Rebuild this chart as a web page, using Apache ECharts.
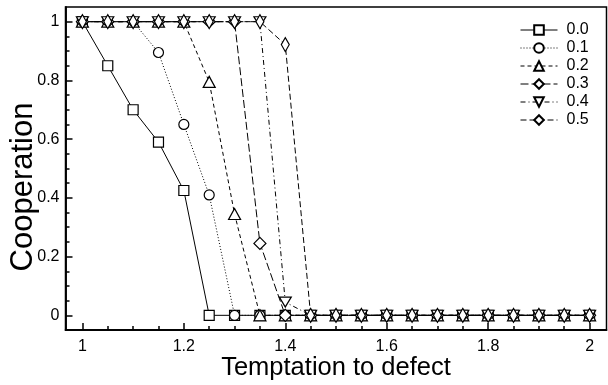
<!DOCTYPE html>
<html>
<head>
<meta charset="utf-8">
<script src="https://cdn.jsdelivr.net/npm/echarts@6/dist/echarts.min.js"></script>
<style>
  html, body { margin: 0; padding: 0; background: #fff; }
  #chart { width: 608px; height: 385px; }
</style>
</head>
<body>
<div id="chart"></div>
<script>
const temptation = [1.0, 1.05, 1.1, 1.15, 1.2, 1.25, 1.3, 1.35, 1.4, 1.45, 1.5,
  1.55, 1.6, 1.65, 1.7, 1.75, 1.8, 1.85, 1.9, 1.95, 2.0];

const coop00 = [1, 0.85, 0.70, 0.59, 0.425, 0, 0, 0, 0, 0, 0, 0, 0, 0, 0, 0, 0, 0, 0, 0, 0];
const coop01 = [1, 1, 1, 0.895, 0.65, 0.41, 0, 0, 0, 0, 0, 0, 0, 0, 0, 0, 0, 0, 0, 0, 0];
const coop02 = [1, 1, 1, 1, 1, 0.795, 0.345, 0, 0, 0, 0, 0, 0, 0, 0, 0, 0, 0, 0, 0, 0];
const coop03 = [1, 1, 1, 1, 1, 1, 1, 0.245, 0, 0, 0, 0, 0, 0, 0, 0, 0, 0, 0, 0, 0];
const coop04 = [1, 1, 1, 1, 1, 1, 1, 1, 0.045, 0, 0, 0, 0, 0, 0, 0, 0, 0, 0, 0, 0];
const coop05 = [1, 1, 1, 1, 1, 1, 1, 1, 0.922, 0, 0, 0, 0, 0, 0, 0, 0, 0, 0, 0, 0];

const seriesNames = ['0.0', '0.1', '0.2', '0.3', '0.4', '0.5'];

const xMajor = [1, 1.2, 1.4, 1.6, 1.8, 2];
const xMinor = [1.05, 1.1, 1.15, 1.25, 1.3, 1.35, 1.45, 1.5, 1.55, 1.65, 1.7, 1.75, 1.85, 1.9, 1.95];
const yMajor = [0, 0.2, 0.4, 0.6, 0.8, 1];
const yMinor = [0.05, 0.1, 0.15, 0.25, 0.3, 0.35, 0.45, 0.5, 0.55, 0.65, 0.7, 0.75, 0.85, 0.9, 0.95];

const xTitle = 'Temptation to defect';
const yTitle = 'Cooperation';

const font = '"Liberation Sans", Arial, Helvetica, sans-serif';

const pairs = vals => temptation.map((t, i) => [t, vals[i]]);

const styles = [
  { data: coop00, symbol: 'rect', size: 10, rotate: 0, dash: 'solid' },
  { data: coop01, symbol: 'circle', size: 10, rotate: 0, dash: [1, 2] },
  { data: coop02, symbol: 'triangle', size: [12, 11], rotate: 0, dash: [4, 3] },
  { data: coop03, symbol: 'diamond', size: 12, rotate: 0, dash: [8, 3] },
  { data: coop04, symbol: 'triangle', size: [12, 10], rotate: 180, dash: [5, 3, 1, 3] },
  { data: coop05, symbol: 'diamond', size: [8, 14], rotate: 0, dash: [6, 3] },
];

const chart = echarts.init(document.getElementById('chart'));

// inward ticks: long majors on the main axes, short minors on label-less twins
const tick = (len, vals) => ({
  show: true, inside: true, length: len, customValues: vals,
  lineStyle: { color: '#000', width: 1.5 }
});

const axisLine = { show: true, onZero: false, lineStyle: { color: '#000', width: 1.5 } };
const labelStyle = { fontFamily: font, fontSize: 16, color: '#000' };

chart.setOption({
  animation: false,
  backgroundColor: '#fff',
  textStyle: { fontFamily: font, color: '#000' },
  grid: {
    left: 65.5, right: 1.5, top: 7, bottom: 55,
    outerBoundsMode: 'none',
    show: true, borderColor: '#000', borderWidth: 1.5
  },
  legend: {
    orient: 'vertical',
    left: 520,
    top: 22,
    padding: 0,
    itemWidth: 37,
    itemHeight: 12,
    itemGap: 2,
    data: seriesNames,
    lineStyle: { width: 1 },
    textStyle: { fontFamily: font, fontSize: 16, color: '#000', padding: [0, 0, 0, 4] }
  },
  // axis titles as plain text elements
  graphic: [
    {
      type: 'text', x: 336, y: 368,
      style: { text: xTitle, font: '25.5px ' + font, fill: '#000', align: 'center', verticalAlign: 'middle' }
    },
    {
      type: 'text', x: 23, y: 187, rotation: Math.PI / 2,
      style: { text: yTitle, font: '31px ' + font, fill: '#000', align: 'center', verticalAlign: 'middle' }
    }
  ],
  xAxis: [
    {
      type: 'value', min: 1 - 1 / 30, max: 2 + 1 / 30, position: 'bottom',
      splitLine: { show: false }, axisLine: axisLine,
      axisTick: tick(7, xMajor),
      axisLabel: Object.assign({ customValues: xMajor, margin: 9 }, labelStyle)
    },
    {
      type: 'value', min: 1 - 1 / 30, max: 2 + 1 / 30, position: 'bottom',
      splitLine: { show: false }, axisLine: axisLine,
      axisTick: tick(4, xMinor),
      axisLabel: { show: false }
    }
  ],
  yAxis: [
    {
      type: 'value', min: -0.05, max: 1.05, position: 'left',
      splitLine: { show: false }, axisLine: axisLine,
      axisTick: tick(7, yMajor),
      axisLabel: Object.assign({ customValues: yMajor, margin: 6 }, labelStyle)
    },
    {
      type: 'value', min: -0.05, max: 1.05, position: 'left',
      splitLine: { show: false }, axisLine: axisLine,
      axisTick: tick(4, yMinor),
      axisLabel: { show: false }
    }
  ],
  series: styles.map((s, i) => ({
    name: seriesNames[i],
    type: 'line',
    xAxisIndex: 0,
    yAxisIndex: 0,
    data: pairs(s.data),
    symbol: s.symbol,
    symbolSize: s.size,
    symbolRotate: s.rotate,
    showAllSymbol: true,
    lineStyle: { color: '#000', width: 1, type: s.dash },
    itemStyle: { color: '#fff', borderColor: '#000', borderWidth: 1.2 },
    emphasis: { disabled: true }
  }))
});
</script>
</body>
</html>
